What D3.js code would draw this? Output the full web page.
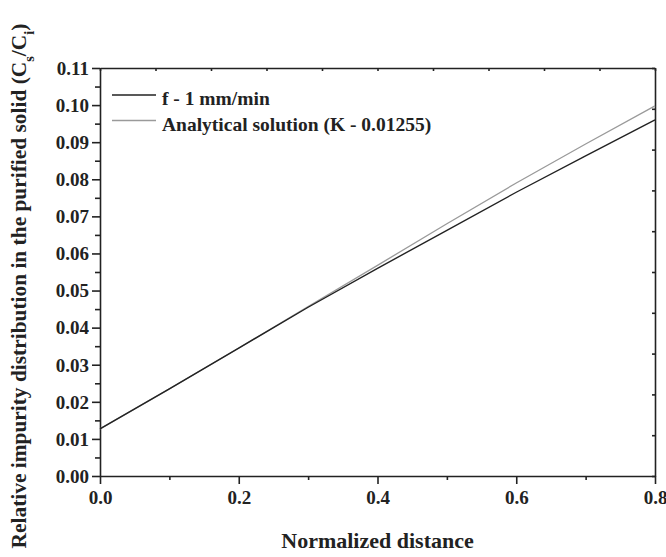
<!DOCTYPE html>
<html><head><meta charset="utf-8">
<script src="https://cdn.jsdelivr.net/npm/d3@7/dist/d3.min.js"></script>
<style>body{margin:0;background:#fff}svg{display:block}text{font-family:"Liberation Serif","Times New Roman",serif;font-weight:bold;fill:#222}</style>
</head><body>
<script>
const xValues = [0, 0.1, 0.2, 0.3, 0.4, 0.5, 0.6, 0.7, 0.8];
const measured = [0.0127, 0.0235, 0.0345, 0.0455, 0.0560, 0.0662, 0.0765, 0.0863, 0.0960];
const analytical = [0.0127, 0.0235, 0.0345, 0.0457, 0.0568, 0.0680, 0.0790, 0.0895, 0.0998];
const seriesNames = ["f - 1 mm/min", "Analytical solution (K - 0.01255)"];
const xTicks = [0, 0.2, 0.4, 0.6, 0.8];
const yTicks = [0, 0.01, 0.02, 0.03, 0.04, 0.05, 0.06, 0.07, 0.08, 0.09, 0.10, 0.11];

const W = 666, H = 557;
const m = {left: 100, right: 11, top: 68, bottom: 81};
const svg = d3.select("body").append("svg").attr("width", W).attr("height", H);
const x = d3.scaleLinear().domain([0, 0.8]).range([m.left, W - m.right]);
const y = d3.scaleLinear().domain([0, 0.11]).range([H - m.bottom, m.top]);
const axisColor = "#222";

// bottom axis
const gx = svg.append("g").attr("transform", `translate(0,${H - m.bottom})`)
  .call(d3.axisBottom(x).tickValues(xTicks).tickFormat(d3.format(".1f")).tickSize(8).tickSizeOuter(0));
const gxm = svg.append("g").attr("transform", `translate(0,${H - m.bottom})`)
  .call(d3.axisBottom(x).tickValues([0.1, 0.3, 0.5, 0.7]).tickFormat("").tickSize(4).tickSizeOuter(0));
gxm.select(".domain").remove();
gx.selectAll("text").attr("dy", "0").attr("y", 28).style("font-size", "19px");

// left axis
const gy = svg.append("g").attr("transform", `translate(${m.left},0)`)
  .call(d3.axisLeft(y).tickValues(yTicks).tickFormat(d3.format(".2f")).tickSize(8).tickSizeOuter(0));
const gym = svg.append("g").attr("transform", `translate(${m.left},0)`)
  .call(d3.axisLeft(y).tickValues(yTicks.slice(0, -1).map(v => v + 0.005)).tickFormat("").tickSize(5).tickSizeOuter(0));
gym.select(".domain").remove();
gy.selectAll("text").attr("x", -11).attr("dy", "0.33em").style("font-size", "19px");

// top & right axes (inward ticks, 10 divisions each)
const xt = d3.scaleLinear().domain([0, 10]).range([m.left, W - m.right]);
const yr = d3.scaleLinear().domain([0, 10]).range([H - m.bottom, m.top]);
svg.append("g").attr("transform", `translate(0,${m.top})`)
  .call(d3.axisBottom(xt).ticks(10).tickFormat("").tickSize(3).tickSizeOuter(0));
svg.append("g").attr("transform", `translate(${W - m.right},0)`)
  .call(d3.axisLeft(yr).ticks(10).tickFormat("").tickSize(3).tickSizeOuter(0));

svg.selectAll(".domain, .tick line").attr("stroke", axisColor).attr("stroke-width", 1.6);
svg.selectAll(".tick text").attr("fill", axisColor);

// lines
const line = d3.line().x((d, i) => x(xValues[i])).y(d => y(d));
svg.append("path").datum(analytical).attr("d", line).attr("fill", "none").attr("stroke", "#9a9a9a").attr("stroke-width", 1.3);
svg.append("path").datum(measured).attr("d", line).attr("fill", "none").attr("stroke", "#222").attr("stroke-width", 1.4);

// legend
const colors = ["#222", "#9a9a9a"];
const lg = svg.append("g");
seriesNames.forEach((name, i) => {
  const yy = 95 + i * 25.5;
  lg.append("line").attr("x1", 112).attr("x2", 156).attr("y1", yy).attr("y2", yy)
    .attr("stroke", colors[i]).attr("stroke-width", 1.3);
  lg.append("text").attr("x", 162).attr("y", yy + 10).style("font-size", "19.5px").text(name);
});

// axis titles
svg.append("text").attr("x", (m.left + W - m.right) / 2).attr("y", 548)
  .attr("text-anchor", "middle").style("font-size", "22px").text("Normalized distance");

const yl = svg.append("text").attr("transform", "translate(26,286) rotate(-90)")
  .attr("text-anchor", "middle").style("font-size", "21.4px");
yl.append("tspan").text("Relative impurity distribution in the purified solid (C");
yl.append("tspan").attr("baseline-shift", "sub").style("font-size", "14.5px").text("s");
yl.append("tspan").text("/C");
yl.append("tspan").attr("baseline-shift", "sub").style("font-size", "14.5px").text("i");
yl.append("tspan").text(")");
</script>
</body></html>
